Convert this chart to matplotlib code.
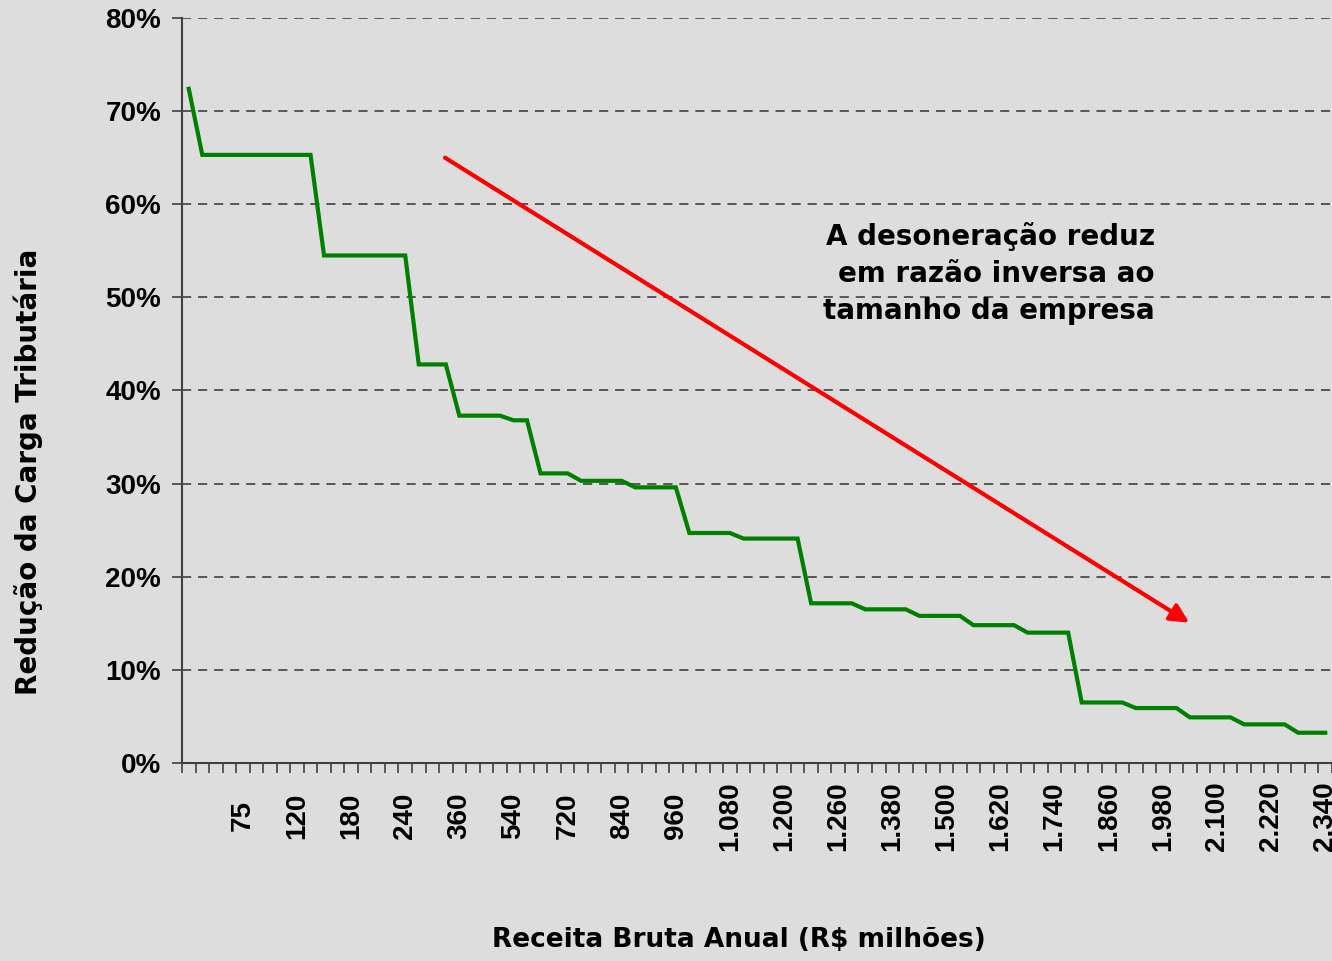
import numpy as np
import matplotlib
matplotlib.use('Agg')
import matplotlib.pyplot as plt

# reducao da carga tributaria por faixa de receita (%), uma por categoria
reducao = [72.4] + [65.3] * 9 + [54.5] * 7 + [42.8] * 3 + [37.3] * 4 + [36.8] * 2 + \
          [31.1] * 3 + [30.3] * 4 + [29.6] * 4 + [24.7] * 4 + [24.1] * 5 + \
          [17.15] * 4 + [16.5] * 4 + [15.8] * 4 + [14.8] * 4 + [14.0] * 4 + \
          [6.5] * 4 + [5.9] * 4 + [4.9] * 4 + [4.15] * 4 + [3.25] * 3

# rotulos do eixo x (um a cada 4 categorias)
rotulos = ['75', '120', '180', '240', '360', '540', '720', '840', '960', '1.080',
           '1.200', '1.260', '1.380', '1.500', '1.620', '1.740', '1.860', '1.980',
           '2.100', '2.220', '2.340']
passo = 4

texto = 'A desoneração reduz\nem razão inversa ao\ntamanho da empresa'

bg = '#dddddd'
fig = plt.figure(figsize=(13.32, 9.61), dpi=100, facecolor=bg)
ax = fig.add_axes([182 / 1332, 1 - 763 / 961, 1 - 182 / 1332, (763 - 18) / 961])
ax.set_facecolor(bg)

n = len(reducao)
xs = np.arange(n)
ax.plot(xs, reducao, color='#008000', lw=3, solid_joinstyle='miter', zorder=3)

ax.set_xlim(-0.5, n - 0.5)
ax.set_ylim(0, 80)

# eixo y
ax.set_yticks(np.arange(0, 81, 10))
ax.set_yticklabels(['{}%'.format(v) for v in range(0, 81, 10)])
for v in range(10, 81, 10):
    ax.axhline(v, color='#333333', lw=1.1, ls=(0, (6, 4.5)), zorder=1)
ax.tick_params(axis='y', direction='out', length=7, width=1.2, color='#404040', pad=8,
               labelsize=20)

# eixo x: marcas nas fronteiras das categorias, rotulos nos centros
pos = [passo * (k + 1) for k in range(len(rotulos))]
ax.set_xticks(pos)
ax.set_xticklabels(rotulos, rotation=90)
ax.set_xticks(np.arange(n + 1) - 0.5, minor=True)
ax.tick_params(axis='x', which='major', length=0, pad=38, labelsize=20)
ax.tick_params(axis='x', which='minor', direction='out', length=7, width=1.2, color='#404040')
for lb in ax.get_xticklabels():
    lb.set_va('center')

for lb in ax.get_xticklabels() + ax.get_yticklabels():
    lb.set_family('Liberation Sans')
    lb.set_fontweight('bold')

for s in ['top', 'right']:
    ax.spines[s].set_visible(False)
for s in ['left', 'bottom']:
    ax.spines[s].set_color('#404040')
    ax.spines[s].set_linewidth(1.5)

# seta vermelha
ax.annotate('', xy=(73.95, 15.07), xytext=(18.94, 65.0),
            arrowprops=dict(arrowstyle='-|>', color='#ff0000', lw=3, mutation_scale=28,
                            shrinkA=0, shrinkB=0), zorder=4)

fig.text(1155 / 1332, 1 - 222 / 961, texto, ha='right', va='top', fontsize=20,
         fontweight='bold', family='DejaVu Sans', linespacing=1.42)

fig.text(28 / 1332, 1 - 472 / 961, 'Redução da Carga Tributária', rotation=90,
         ha='center', va='center', fontsize=20, fontweight='bold', family='DejaVu Sans')
fig.text(739 / 1332, 1 - 940 / 961, 'Receita Bruta Anual (R$ milhões)', ha='center',
         va='center', fontsize=19, fontweight='bold', family='DejaVu Sans')

fig.savefig('out.png', dpi=100, facecolor=bg)
